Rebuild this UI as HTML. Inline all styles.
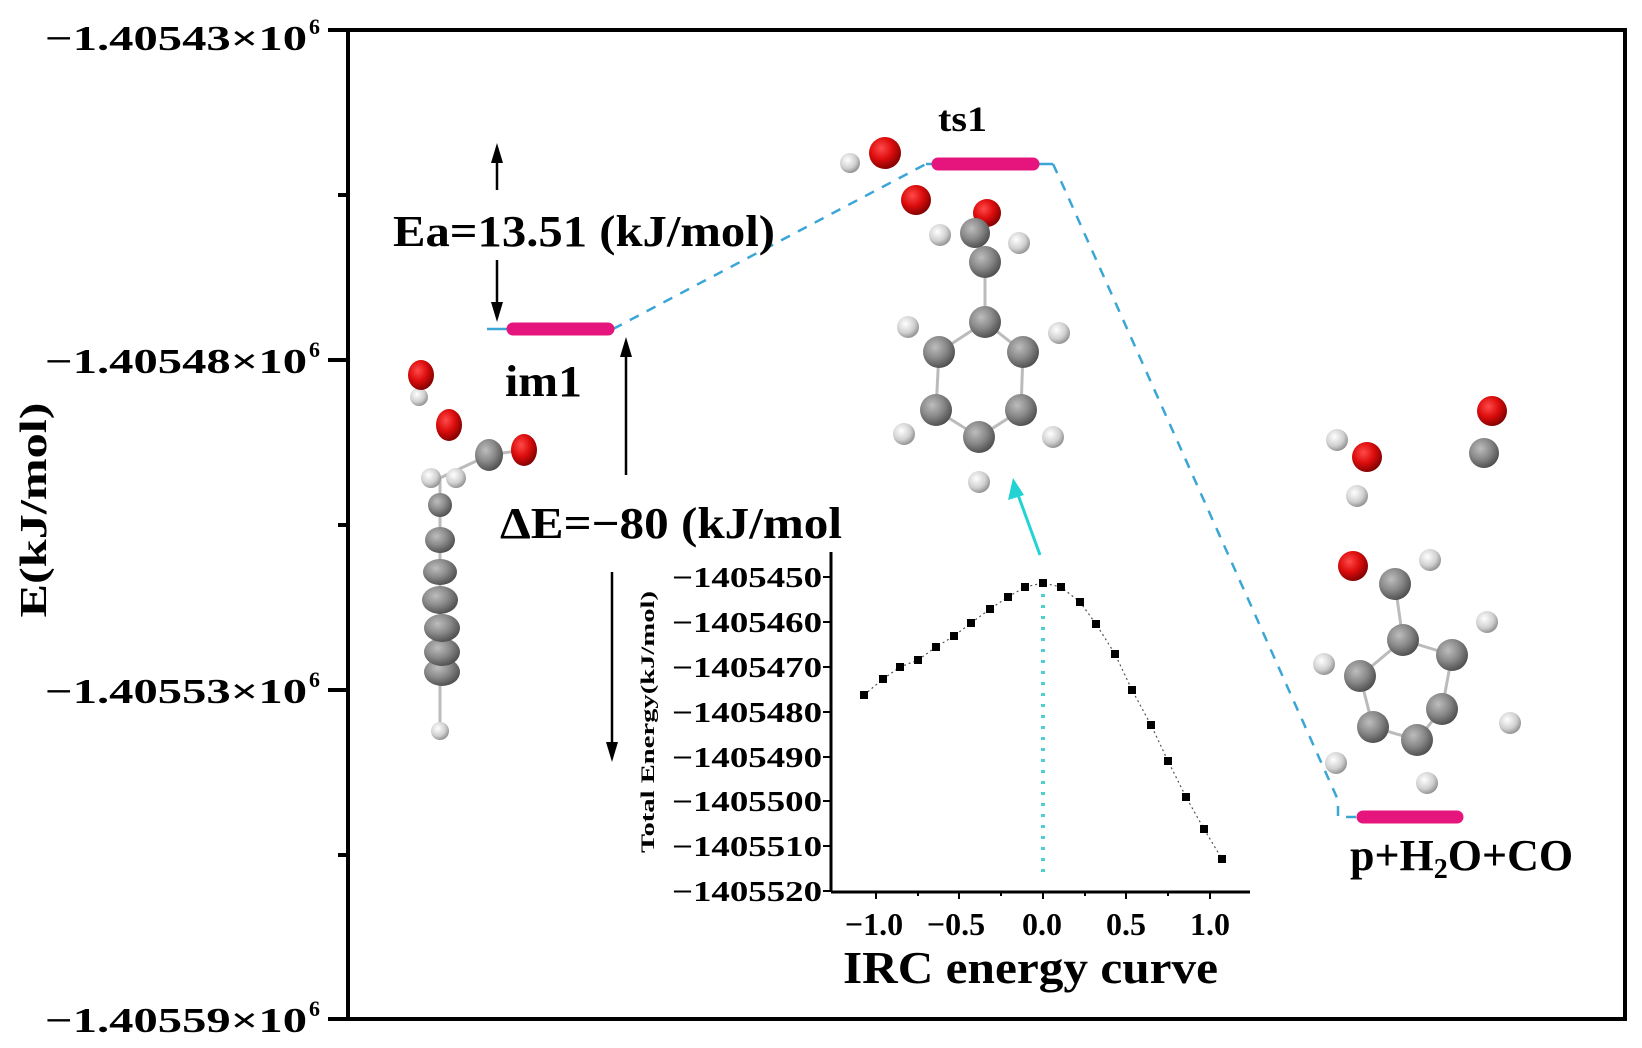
<!DOCTYPE html>
<html><head><meta charset="utf-8"><style>html,body{margin:0;padding:0;background:#fff}svg{display:block}</style></head><body>
<svg width="1642" height="1048" viewBox="0 0 1642 1048" xmlns="http://www.w3.org/2000/svg" font-family="'Liberation Serif',serif" font-weight="bold">
<defs>
<radialGradient id="gO" cx="0.38" cy="0.35" r="0.7"><stop offset="0" stop-color="#ff4a4a"/><stop offset="0.5" stop-color="#dd0d0d"/><stop offset="1" stop-color="#7a0000"/></radialGradient>
<radialGradient id="gC" cx="0.38" cy="0.35" r="0.7"><stop offset="0" stop-color="#bdbdbd"/><stop offset="0.5" stop-color="#8a8a8a"/><stop offset="1" stop-color="#4a4a4a"/></radialGradient>
<radialGradient id="gH" cx="0.38" cy="0.35" r="0.7"><stop offset="0" stop-color="#ffffff"/><stop offset="0.6" stop-color="#d0d0d0"/><stop offset="1" stop-color="#8a8a8a"/></radialGradient>
</defs>
<rect x="348" y="30" width="1277" height="989" fill="none" stroke="#000" stroke-width="4"/>
<g stroke="#000" stroke-width="4">
<line x1="328" y1="30" x2="348" y2="30"/><line x1="328" y1="360" x2="348" y2="360"/><line x1="328" y1="690" x2="348" y2="690"/><line x1="328" y1="1019" x2="348" y2="1019"/>
<line x1="338" y1="195" x2="348" y2="195"/><line x1="338" y1="525" x2="348" y2="525"/><line x1="338" y1="855" x2="348" y2="855"/>
</g>
<g font-size="35" fill="#000">
<text x="45" y="50" textLength="262" lengthAdjust="spacingAndGlyphs">−1.40543×10</text><text x="309" y="34" font-size="22">6</text>
<text x="45" y="373" textLength="262" lengthAdjust="spacingAndGlyphs">−1.40548×10</text><text x="309" y="357" font-size="22">6</text>
<text x="45" y="703" textLength="262" lengthAdjust="spacingAndGlyphs">−1.40553×10</text><text x="309" y="687" font-size="22">6</text>
<text x="45" y="1032" textLength="262" lengthAdjust="spacingAndGlyphs">−1.40559×10</text><text x="309" y="1016" font-size="22">6</text>
</g>
<text transform="translate(46,510) rotate(-90)" text-anchor="middle" font-size="38" textLength="215" lengthAdjust="spacingAndGlyphs">E(kJ/mol)</text>

<g stroke="#3aa6d6" stroke-width="2.5" fill="none">
<line x1="487" y1="329" x2="508" y2="329"/>
<line x1="613" y1="329" x2="926" y2="164" stroke-dasharray="10,9"/>
<line x1="926" y1="164" x2="1053" y2="164"/>
<polyline points="1053,164 1065,190 1338,800 1338,817 1358,817" stroke-dasharray="10,9"/>
</g>
<g stroke="#e6157e" stroke-width="13" stroke-linecap="round">
<line x1="513" y1="329" x2="608" y2="329"/>
<line x1="938" y1="164" x2="1033" y2="164"/>
<line x1="1363" y1="817" x2="1457" y2="817"/>
</g>
<g stroke="#000" stroke-width="2.5">
<line x1="497" y1="190" x2="497" y2="150"/><line x1="497" y1="260" x2="497" y2="312"/>
<line x1="626" y1="475" x2="626" y2="345"/>
<line x1="612" y1="572" x2="612" y2="752"/>
</g>
<g fill="#000">
<polygon points="497,143 491,163 503,163"/><polygon points="497,322 491,302 503,302"/>
<polygon points="626,337 620,357 632,357"/><polygon points="612,762 606,742 618,742"/>
</g>
<g font-size="44">
<text x="393" y="246" textLength="382" lengthAdjust="spacingAndGlyphs">Ea=13.51 (kJ/mol)</text>
<text x="505" y="396" textLength="77" lengthAdjust="spacingAndGlyphs">im1</text>
<text x="938" y="131" font-size="36" textLength="49" lengthAdjust="spacingAndGlyphs">ts1</text>
<text x="500" y="538" textLength="342" lengthAdjust="spacingAndGlyphs">ΔE=−80 (kJ/mol</text>
<text x="1350" y="870">p+H<tspan font-size="28" dy="8">2</tspan><tspan dy="-8">O+CO</tspan></text>
</g>

<g stroke="#bbb" stroke-width="3">
<line x1="440" y1="478" x2="440" y2="730"/><line x1="440" y1="478" x2="489" y2="455"/><line x1="489" y1="455" x2="524" y2="450"/>
</g>
<circle cx="419" cy="397" r="9" fill="url(#gH)"/>
<ellipse cx="421" cy="375" rx="13" ry="15" fill="url(#gO)"/>
<ellipse cx="449" cy="425" rx="13" ry="16" fill="url(#gO)"/>
<circle cx="431" cy="478" r="10" fill="url(#gH)"/><circle cx="456" cy="478" r="10" fill="url(#gH)"/>
<ellipse cx="489" cy="455" rx="14" ry="16" fill="url(#gC)"/>
<ellipse cx="524" cy="450" rx="13" ry="16" fill="url(#gO)"/>
<circle cx="440" cy="731" r="9" fill="url(#gH)"/>
<ellipse cx="442" cy="672" rx="18" ry="14" fill="url(#gC)"/>
<ellipse cx="442" cy="652" rx="18" ry="14" fill="url(#gC)"/>
<ellipse cx="442" cy="628" rx="18" ry="14" fill="url(#gC)"/>
<ellipse cx="440" cy="600" rx="18" ry="14" fill="url(#gC)"/>
<ellipse cx="440" cy="572" rx="17" ry="13" fill="url(#gC)"/>
<ellipse cx="440" cy="540" rx="15" ry="13" fill="url(#gC)"/>
<circle cx="440" cy="505" r="12" fill="url(#gC)"/>

<g stroke="#bbb" stroke-width="3" fill="none">
<line x1="985" y1="262" x2="985" y2="322"/>
<polygon points="985,322 1023,352 1021,410 979,437 936,410 939,352"/>
</g>
<circle cx="850" cy="163" r="10" fill="url(#gH)"/>
<circle cx="885" cy="153" r="16" fill="url(#gO)"/>
<circle cx="916" cy="200" r="15" fill="url(#gO)"/>
<circle cx="987" cy="213" r="14" fill="url(#gO)"/>
<circle cx="940" cy="235" r="11" fill="url(#gH)"/><circle cx="1019" cy="243" r="11" fill="url(#gH)"/>
<circle cx="975" cy="233" r="15" fill="url(#gC)"/>
<circle cx="985" cy="262" r="16" fill="url(#gC)"/>
<circle cx="908" cy="327" r="11" fill="url(#gH)"/><circle cx="1059" cy="333" r="11" fill="url(#gH)"/>
<circle cx="904" cy="434" r="11" fill="url(#gH)"/><circle cx="1053" cy="437" r="11" fill="url(#gH)"/><circle cx="979" cy="482" r="11" fill="url(#gH)"/>
<circle cx="985" cy="322" r="16" fill="url(#gC)"/><circle cx="939" cy="352" r="16" fill="url(#gC)"/><circle cx="1023" cy="352" r="16" fill="url(#gC)"/>
<circle cx="936" cy="410" r="16" fill="url(#gC)"/><circle cx="1021" cy="410" r="16" fill="url(#gC)"/><circle cx="979" cy="437" r="16" fill="url(#gC)"/>

<g stroke="#bbb" stroke-width="3" fill="none">
<line x1="1395" y1="584" x2="1403" y2="640"/>
<polygon points="1403,640 1452,655 1442,709 1417,740 1373,727 1360,676"/>
</g>
<circle cx="1337" cy="440" r="11" fill="url(#gH)"/><circle cx="1357" cy="496" r="11" fill="url(#gH)"/>
<circle cx="1367" cy="457" r="15" fill="url(#gO)"/>
<circle cx="1492" cy="411" r="15" fill="url(#gO)"/><circle cx="1484" cy="453" r="15" fill="url(#gC)"/>
<circle cx="1430" cy="560" r="11" fill="url(#gH)"/>
<circle cx="1353" cy="566" r="15" fill="url(#gO)"/><circle cx="1395" cy="584" r="16" fill="url(#gC)"/>
<circle cx="1324" cy="664" r="11" fill="url(#gH)"/><circle cx="1487" cy="622" r="11" fill="url(#gH)"/><circle cx="1510" cy="723" r="11" fill="url(#gH)"/><circle cx="1336" cy="763" r="11" fill="url(#gH)"/><circle cx="1427" cy="783" r="11" fill="url(#gH)"/>
<circle cx="1403" cy="640" r="16" fill="url(#gC)"/><circle cx="1360" cy="676" r="16" fill="url(#gC)"/><circle cx="1452" cy="655" r="16" fill="url(#gC)"/><circle cx="1442" cy="709" r="16" fill="url(#gC)"/><circle cx="1373" cy="727" r="16" fill="url(#gC)"/><circle cx="1417" cy="740" r="16" fill="url(#gC)"/>

<line x1="1040" y1="555" x2="1017" y2="492" stroke="#22d3d3" stroke-width="3"/>
<polygon points="1013,478 1008,500 1024,495" fill="#22d3d3"/>

<line x1="1043" y1="583" x2="1043" y2="880" stroke="#4fd0d0" stroke-width="4" stroke-dasharray="3,8"/>
<g stroke="#000" stroke-width="3">
<line x1="831" y1="552" x2="831" y2="892"/><line x1="831" y1="892" x2="1250" y2="892"/>
</g>
<g stroke="#000" stroke-width="2">
<line x1="823" y1="577" x2="831" y2="577"/><line x1="823" y1="622" x2="831" y2="622"/><line x1="823" y1="667" x2="831" y2="667"/><line x1="823" y1="712" x2="831" y2="712"/><line x1="823" y1="757" x2="831" y2="757"/><line x1="823" y1="801" x2="831" y2="801"/><line x1="823" y1="846" x2="831" y2="846"/><line x1="823" y1="891" x2="831" y2="891"/>
<line x1="876" y1="892" x2="876" y2="899"/><line x1="959" y1="892" x2="959" y2="899"/><line x1="1043" y1="892" x2="1043" y2="899"/><line x1="1126" y1="892" x2="1126" y2="899"/><line x1="1210" y1="892" x2="1210" y2="899"/>
<line x1="918" y1="892" x2="918" y2="896"/><line x1="1001" y1="892" x2="1001" y2="896"/><line x1="1085" y1="892" x2="1085" y2="896"/><line x1="1168" y1="892" x2="1168" y2="896"/>
</g>
<g font-size="29" text-anchor="end">
<text x="822" y="587" textLength="150" lengthAdjust="spacingAndGlyphs">−1405450</text>
<text x="822" y="632" textLength="150" lengthAdjust="spacingAndGlyphs">−1405460</text>
<text x="822" y="677" textLength="150" lengthAdjust="spacingAndGlyphs">−1405470</text>
<text x="822" y="722" textLength="150" lengthAdjust="spacingAndGlyphs">−1405480</text>
<text x="822" y="767" textLength="150" lengthAdjust="spacingAndGlyphs">−1405490</text>
<text x="822" y="811" textLength="150" lengthAdjust="spacingAndGlyphs">−1405500</text>
<text x="822" y="856" textLength="150" lengthAdjust="spacingAndGlyphs">−1405510</text>
<text x="822" y="901" textLength="150" lengthAdjust="spacingAndGlyphs">−1405520</text>
</g>
<text transform="translate(654,722) rotate(-90)" text-anchor="middle" font-size="19" textLength="262" lengthAdjust="spacingAndGlyphs">Total Energy(kJ/mol)</text>
<g font-size="32" text-anchor="middle">
<text x="874" y="935">−1.0</text><text x="956" y="935">−0.5</text><text x="1042" y="935">0.0</text><text x="1126" y="935">0.5</text><text x="1210" y="935">1.0</text>
</g>
<text x="843" y="983" font-size="46" textLength="375" lengthAdjust="spacingAndGlyphs">IRC energy curve</text>
<polyline fill="none" stroke="#555" stroke-width="1.2" stroke-dasharray="2,3" points="864,695 883,679 900,667 918,660 936,647 954,636 971,623 990,609 1008,597 1025,587 1043,583 1061,587 1080,602 1096,624 1115,654 1132,690 1151,725 1168,761 1186,797 1204,829 1222,859"/>
<g fill="#000">
<rect x="860" y="691" width="8" height="8"/><rect x="879" y="675" width="8" height="8"/><rect x="896" y="663" width="8" height="8"/><rect x="914" y="656" width="8" height="8"/><rect x="932" y="643" width="8" height="8"/><rect x="950" y="632" width="8" height="8"/><rect x="967" y="619" width="8" height="8"/><rect x="986" y="605" width="8" height="8"/><rect x="1004" y="593" width="8" height="8"/><rect x="1021" y="583" width="8" height="8"/><rect x="1039" y="579" width="8" height="8"/><rect x="1057" y="583" width="8" height="8"/><rect x="1076" y="598" width="8" height="8"/><rect x="1092" y="620" width="8" height="8"/><rect x="1111" y="650" width="8" height="8"/><rect x="1128" y="686" width="8" height="8"/><rect x="1147" y="721" width="8" height="8"/><rect x="1164" y="757" width="8" height="8"/><rect x="1182" y="793" width="8" height="8"/><rect x="1200" y="825" width="8" height="8"/><rect x="1218" y="855" width="8" height="8"/>
</g>
</svg>
</body></html>
